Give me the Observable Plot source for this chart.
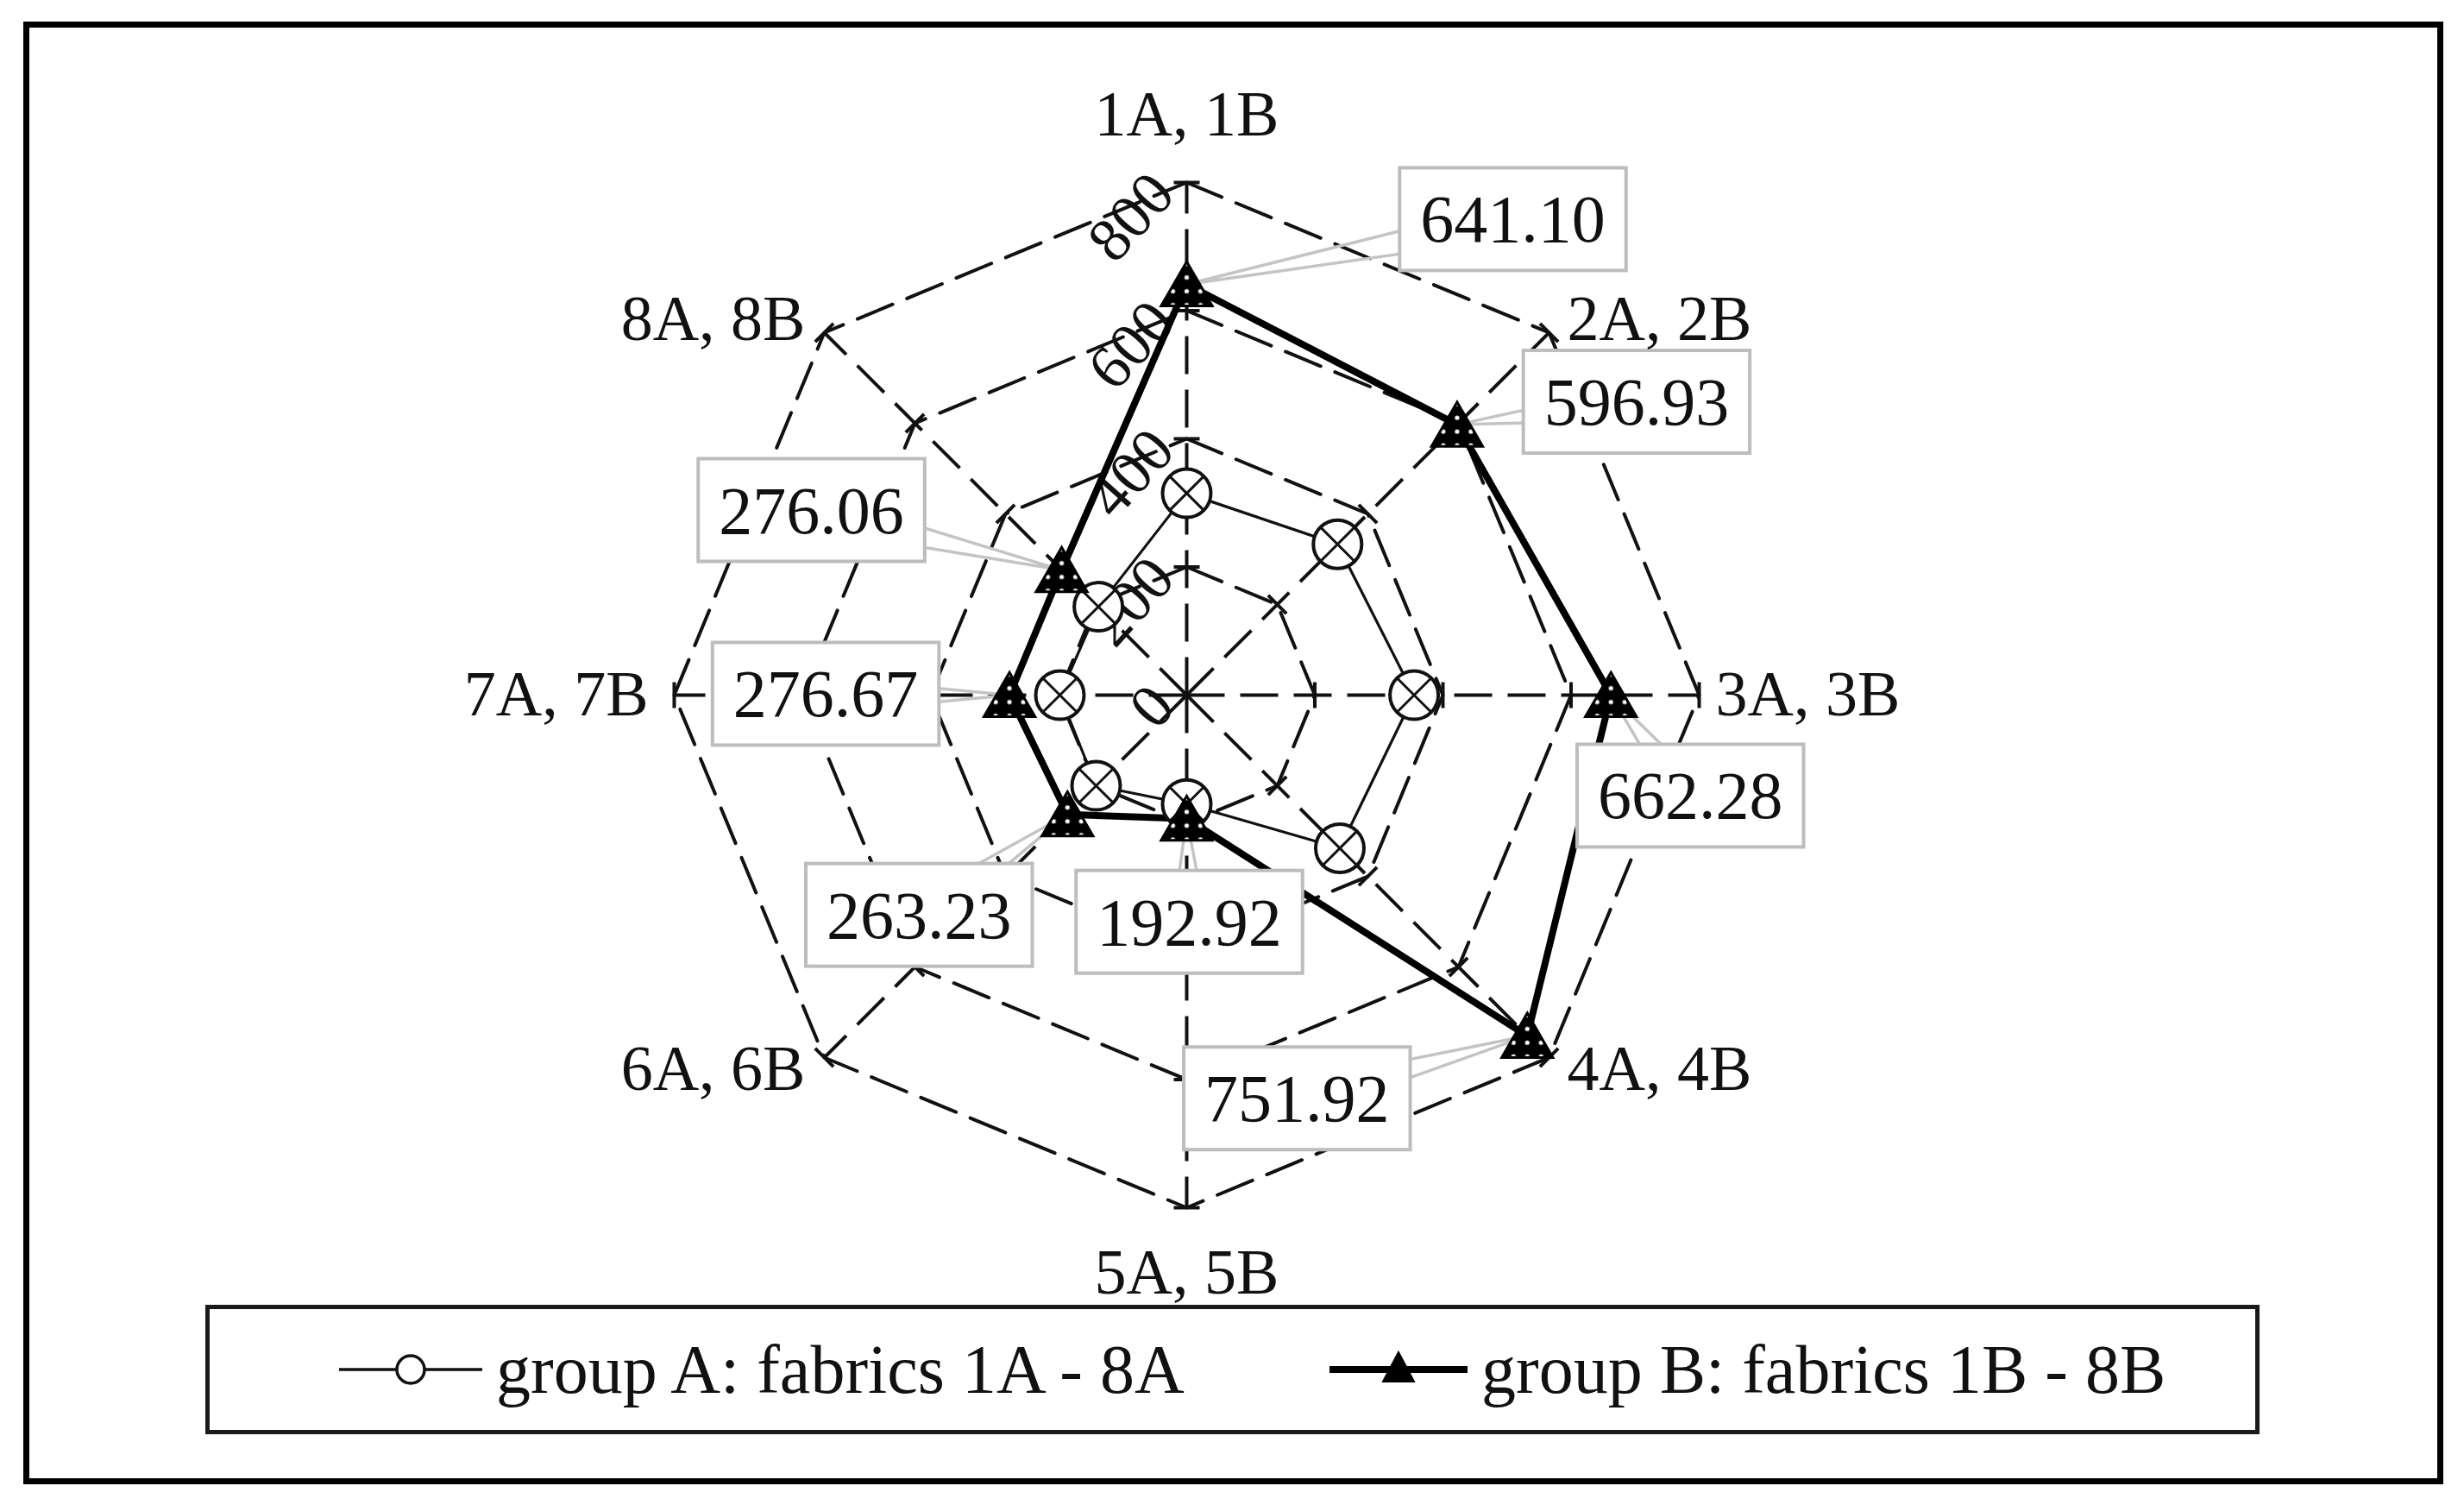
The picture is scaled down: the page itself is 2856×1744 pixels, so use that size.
<!DOCTYPE html>
<html>
<head>
<meta charset="utf-8">
<script src="https://cdn.jsdelivr.net/npm/d3@7"></script>
<script src="https://cdn.jsdelivr.net/npm/@observablehq/plot@0.6"></script>
<style>
html, body { margin: 0; padding: 0; background: #fff; }
body { width: 2856px; height: 1744px; position: relative; overflow: hidden;
  font-family: "Liberation Serif", "Times New Roman", serif; color: #111; }
#frame { position: absolute; left: 27px; top: 25px; width: 2805px; height: 1695px;
  border: 7px solid #000; box-sizing: border-box; }
#chart { position: absolute; left: 0; top: 0; }
#legend { position: absolute; left: 238px; top: 1512px; width: 2381px; height: 150px;
  border: 5px solid #1a1a1a; box-sizing: border-box; }
.item { position: absolute; top: 0; height: 140px; display: flex; align-items: center;
  font-size: 80px; white-space: nowrap; }
.item span { margin-left: 14px; }
</style>
</head>
<body>
<svg width="0" height="0" style="position:absolute">
  <defs>
    <pattern id="triDots" patternUnits="userSpaceOnUse" width="16" height="16">
      <rect width="16" height="16" fill="#000"/>
      <circle cx="0" cy="0" r="2.6" fill="#fff"/>
      <circle cx="16" cy="0" r="2.6" fill="#fff"/>
      <circle cx="0" cy="16" r="2.6" fill="#fff"/>
      <circle cx="16" cy="16" r="2.6" fill="#fff"/>
    </pattern>
  </defs>
</svg>
<div id="frame"></div>
<div id="chart"></div>
<div id="legend"></div>
<script>
// ---------------- data ----------------
const categories = ["1A, 1B", "2A, 2B", "3A, 3B", "4A, 4B", "5A, 5B", "6A, 6B", "7A, 7B", "8A, 8B"];
const groupA = [315, 333, 355, 338, 170, 200, 198, 195];
const groupB = [641.10, 596.93, 662.28, 751.92, 192.92, 263.23, 276.67, 276.06];
const gridLevels = [0, 200, 400, 600, 800];
const seriesNames = ["group A: fabrics 1A - 8A", "group B: fabrics 1B - 8B"];

// ---------------- layout (pixels) ----------------
const W = 2856, H = 1510, CX = 1375, CY = 805, RPX = 594;
const catLayout = [
  {anchor: "middle", dx: 0, dy: -78},
  {anchor: "start", dx: 21, dy: -15},
  {anchor: "start", dx: 19, dy: 0},
  {anchor: "start", dx: 21, dy: 14},
  {anchor: "middle", dx: 0, dy: 76},
  {anchor: "end", dx: -22, dy: 14},
  {anchor: "end", dx: -30, dy: 0},
  {anchor: "end", dx: -22, dy: -15}
];
const labelOffsets = [[378, -74], [208, -25], [92, 118], [-267, 74], [3, 121], [-172, 118], [-213, 0], [-290, -68]];

const VMAX = gridLevels[gridLevels.length - 1];
const k = RPX / VMAX; // px per value unit
const n = categories.length;
const ang = i => i * 2 * Math.PI / n;
const X = (v, i) => v * Math.sin(ang(i));
const Y = (v, i) => v * Math.cos(ang(i));

const levels = gridLevels.filter(v => v > 0);
const rings = levels.flatMap(L => d3.range(n + 1).map(j => ({L, x: X(L, j % n), y: Y(L, j % n)})));
const spokes = categories.map((c, i) => ({x1: 0, y1: 0, x2: X(VMAX, i), y2: Y(VMAX, i)}));
const TICK = 15 / k;
const ticks = categories.flatMap((c, i) => levels.map(L => {
  const a = ang(i), cx = X(L, i), cy = Y(L, i), ux = Math.cos(a), uy = -Math.sin(a);
  return {x1: cx - ux * TICK, y1: cy - uy * TICK, x2: cx + ux * TICK, y2: cy + uy * TICK};
}));

const ptsA = groupA.map((v, i) => ({i, v, x: X(v, i), y: Y(v, i)}));
const ptsB = groupB.map((v, i) => ({i, v, x: X(v, i), y: Y(v, i)}));
const closedA = [...ptsA, ptsA[0]];
const closedB = [...ptsB, ptsB[0]];

const labels = ptsB.map((p, i) => {
  const [ox, oy] = labelOffsets[i];
  return {text: p.v.toFixed(2), px: p.x, py: p.y, ox, oy, x: p.x + ox / k, y: p.y - oy / k};
});
const leaders = labels.flatMap((l, i) => {
  const len = Math.hypot(l.ox, l.oy) || 1;
  const nx = -l.oy / len, ny = l.ox / len, w = 20;
  return [
    {id: i, x: l.px, y: l.py},
    {id: i, x: l.x + nx * w / k, y: l.y - ny * w / k},
    {id: i, x: l.px, y: l.py},
    {id: i, x: l.x - nx * w / k, y: l.y + ny * w / k}
  ];
});
const catPts = categories.map((c, i) => ({
  c, anchor: catLayout[i].anchor,
  x: X(VMAX, i) + catLayout[i].dx / k,
  y: Y(VMAX, i) - catLayout[i].dy / k
}));

const FONT = '"Liberation Serif", "Times New Roman", serif';
const INK = "#111";

const chart = Plot.plot({
  width: W, height: H, margin: 0,
  x: {type: "linear", domain: [-CX / k, (W - CX) / k], axis: null},
  y: {type: "linear", domain: [-(H - CY) / k, CY / k], axis: null},
  style: {fontFamily: FONT, background: "transparent", color: INK, overflow: "visible"},
  marks: [
    Plot.line(rings, {x: "x", y: "y", z: "L", stroke: INK, strokeWidth: 4, strokeDasharray: "44,18"}),
    Plot.link(spokes, {x1: "x1", y1: "y1", x2: "x2", y2: "y2", stroke: INK, strokeWidth: 4, strokeDasharray: "44,18"}),
    Plot.link(ticks, {x1: "x1", y1: "y1", x2: "x2", y2: "y2", stroke: INK, strokeWidth: 4}),
    Plot.text(gridLevels, {x: () => 0, y: d => d, text: d => String(d), rotate: -48, textAnchor: "end",
      dx: -28, fontSize: 72, fill: INK}),
    Plot.line(leaders, {x: "x", y: "y", z: "id", stroke: "#c4c4c4", strokeWidth: 3.5}),
    Plot.line(closedA, {x: "x", y: "y", stroke: INK, strokeWidth: 3.2}),
    Plot.line(closedB, {x: "x", y: "y", stroke: "#000", strokeWidth: 8, strokeLinejoin: "miter"}),
    Plot.dot(ptsA, {x: "x", y: "y", r: 28, fill: "#fff", stroke: INK, strokeWidth: 4}),
    Plot.dot(ptsA, {x: "x", y: "y", r: 18.5, symbol: "times", stroke: INK, strokeWidth: 3}),
    Plot.dot(ptsB, {x: "x", y: "y", r: 22, symbol: "triangle", fill: "url(#triDots)", stroke: "#000",
      strokeWidth: 3, dy: 8}),
    Plot.text(labels, {x: "x", y: "y", text: "text", fontSize: 78, fill: INK, textAnchor: "middle",
      lineAnchor: "middle", className: "dlabel", ariaLabel: "dlabel"}),
    ...["start", "middle", "end"].map(a => Plot.text(catPts.filter(d => d.anchor === a), {
      x: "x", y: "y", text: "c", textAnchor: a, lineAnchor: "middle", fontSize: 74, fill: INK
    }))
  ]
});
document.getElementById("chart").appendChild(chart);

// label boxes behind the value texts
const labelTexts = chart.querySelectorAll('g.dlabel text, g[aria-label="dlabel"] text');
const seen = new Set();
labelTexts.forEach(t => {
  if (seen.has(t)) return; seen.add(t);
  const bb = t.getBBox();
  const r = document.createElementNS("http://www.w3.org/2000/svg", "rect");
  r.setAttribute("x", bb.x - 24);
  r.setAttribute("y", bb.y - 16);
  r.setAttribute("width", bb.width + 48);
  r.setAttribute("height", bb.height + 32);
  const tr = t.getAttribute("transform");
  if (tr) r.setAttribute("transform", tr);
  r.setAttribute("fill", "#fff");
  r.setAttribute("stroke", "#bdbdbd");
  r.setAttribute("stroke-width", "4");
  t.parentNode.insertBefore(r, t);
});

// legend
const legend = document.getElementById("legend");
const itemA = document.createElement("div");
itemA.className = "item";
itemA.style.left = "148px";
itemA.innerHTML = '<svg width="170" height="60"><line x1="2" x2="168" y1="30" y2="30" stroke="#111" stroke-width="3.5"/>' +
  '<circle cx="85" cy="30" r="16" fill="#fff" stroke="#111" stroke-width="3.5"/></svg><span></span>';
itemA.querySelector("span").textContent = seriesNames[0];
const itemB = document.createElement("div");
itemB.className = "item";
itemB.style.left = "1296px";
itemB.innerHTML = '<svg width="164" height="60"><line x1="2" x2="162" y1="30" y2="30" stroke="#000" stroke-width="8"/>' +
  '<path d="M82,10 L100,44 L64,44 Z" fill="#000" stroke="#000" stroke-width="2"/></svg><span></span>';
itemB.querySelector("span").textContent = seriesNames[1];
legend.appendChild(itemA);
legend.appendChild(itemB);
</script>
</body>
</html>
